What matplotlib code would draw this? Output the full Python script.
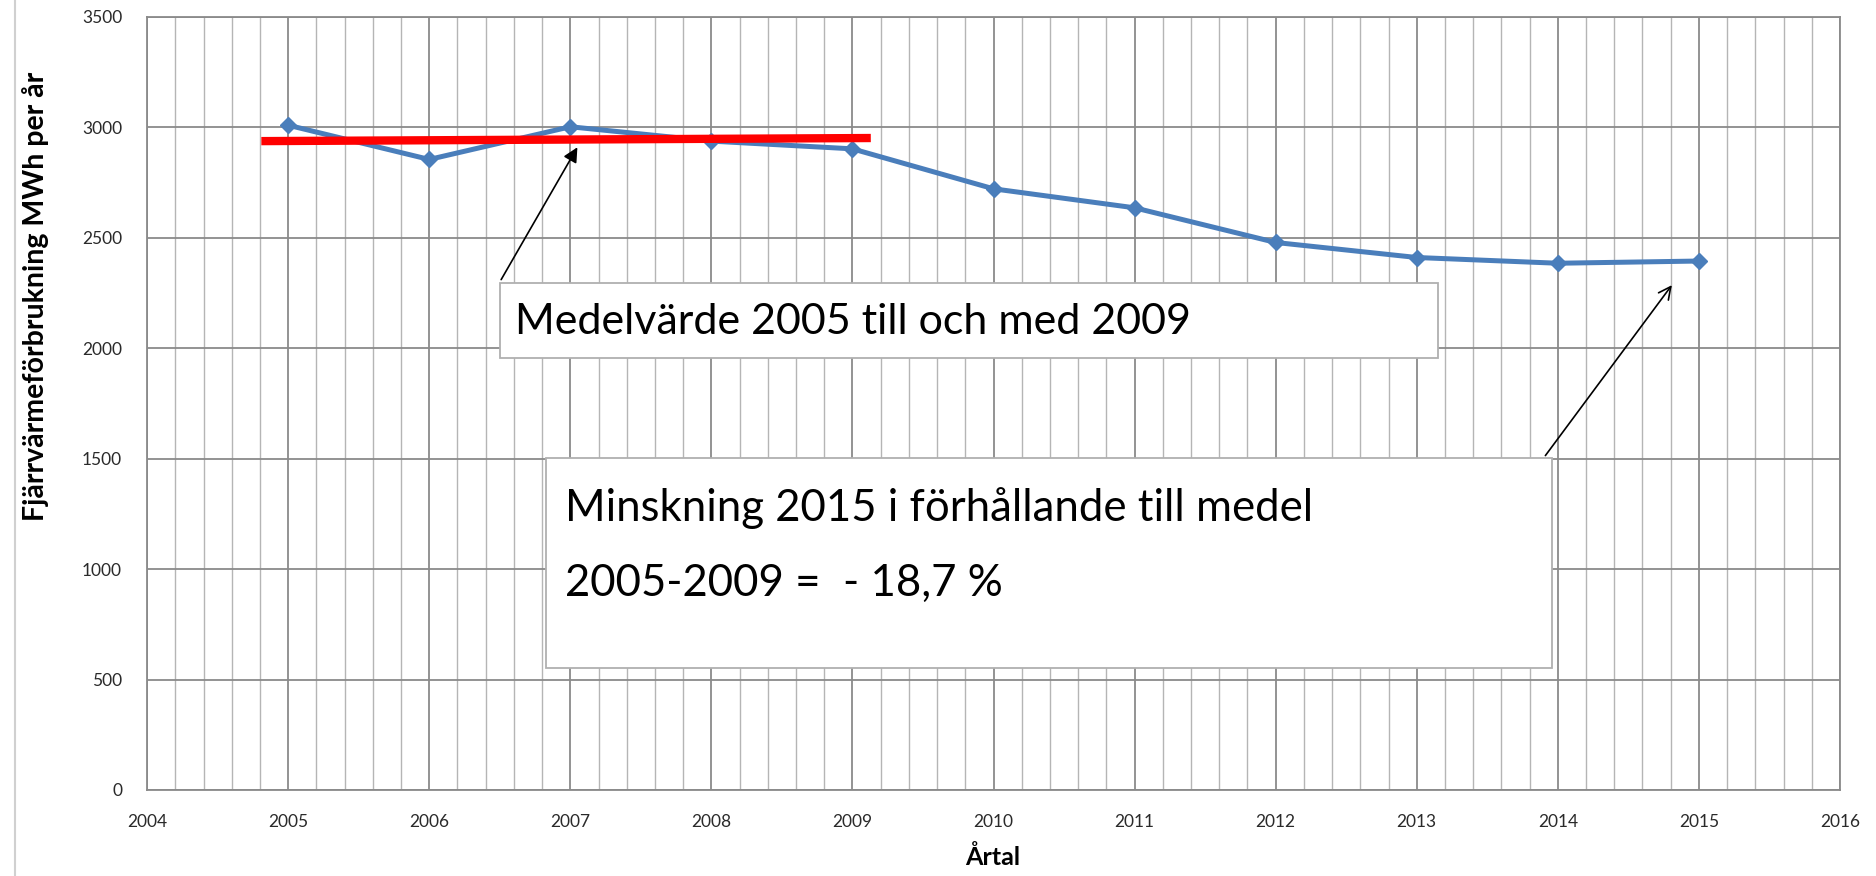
import numpy as np
import matplotlib.pyplot as plt
from matplotlib.lines import Line2D
from matplotlib.patches import Rectangle

# Data
years = [2005, 2006, 2007, 2008, 2009, 2010, 2011, 2012, 2013, 2014, 2015]
mwh = [3010, 2855, 3003, 2938, 2903, 2722, 2636, 2479, 2411, 2385, 2395]

# Hand-drawn mean line (2005-2009)
mean_x = [2004.81, 2009.13]
mean_y = [2938, 2952]

box1_text = "Medelvärde 2005 till och med 2009"
box2_line1 = "Minskning 2015 i förhållande till medel"
box2_line2 = "2005-2009 =  - 18,7 %"

plt.rcParams['font.family'] = ['Lato', 'DejaVu Sans']

fig = plt.figure(figsize=(18.76, 8.76), dpi=100)
ax = fig.add_axes([0.0784, 0.0982, 0.9024, 0.8824])

ax.set_xlim(2004, 2016)
ax.set_ylim(0, 3500)
ax.set_xticks(np.arange(2004, 2017, 1))
ax.set_xticks(np.arange(2004, 2016.01, 0.2), minor=True)
ax.set_yticks(np.arange(0, 3501, 500))

ax.grid(which='major', axis='both', color='#8a8a8a', linewidth=1.3)
ax.grid(which='minor', axis='x', color='#b5b5b5', linewidth=1.0)
ax.set_axisbelow(True)
for s in ax.spines.values():
    s.set_color('#8a8a8a')
    s.set_linewidth(1.3)
ax.tick_params(which='both', length=0)
ax.tick_params(axis='x', pad=17, labelsize=12.5, labelcolor='#2a2a2a')
ax.tick_params(axis='y', pad=18, labelsize=12.5, labelcolor='#2a2a2a')

# series
ax.plot(years, mwh, color='#4a7ebb', linewidth=3.6, marker='D', markersize=8,
        zorder=3)
# red mean line
ax.plot(mean_x, mean_y, color='#ff0000', linewidth=6, solid_capstyle='butt',
        zorder=4)

# annotation boxes
ax.add_patch(Rectangle((2006.50, 1956), 6.65, 340, facecolor='white',
                       edgecolor='#b0b0b0', linewidth=1.3, zorder=5))
ax.text(2006.61, 2120, box1_text, fontsize=31, va='center', ha='left',
        color='black', zorder=6)

ax.add_patch(Rectangle((2006.83, 552), 7.13, 952, facecolor='white',
                       edgecolor='#b0b0b0', linewidth=1.3, zorder=5))
ax.text(2006.96, 1275, box2_line1, fontsize=31.5, va='center', ha='left',
        color='black', zorder=6)
ax.text(2006.96, 935, box2_line2, fontsize=31.5, va='center', ha='left',
        color='black', zorder=6)

# arrows
ax.annotate('', xy=(2007.06, 2921), xytext=(2006.50, 2300),
            arrowprops=dict(arrowstyle='-|>', color='black', lw=1.2,
                            mutation_scale=22), zorder=7)
ax.annotate('', xy=(2014.82, 2296), xytext=(2013.90, 1504),
            arrowprops=dict(arrowstyle='->', color='black', lw=1.2,
                            mutation_scale=22), zorder=7)

fig.text(0.5293, 0.008, "Årtal", fontsize=18, fontweight='bold', ha='center',
         va='bottom')
fig.text(0.019, 0.662, "Fjärrvärmeförbrukning MWh per år", fontsize=20.5,
         fontweight='bold', rotation=90, ha='center', va='center')

# outer chart frame on the left
fig.add_artist(Line2D([0.008, 0.008], [0.0, 1.0], color='#d0d0d0',
                      linewidth=1.5))

fig.savefig('out.png', dpi=100)
